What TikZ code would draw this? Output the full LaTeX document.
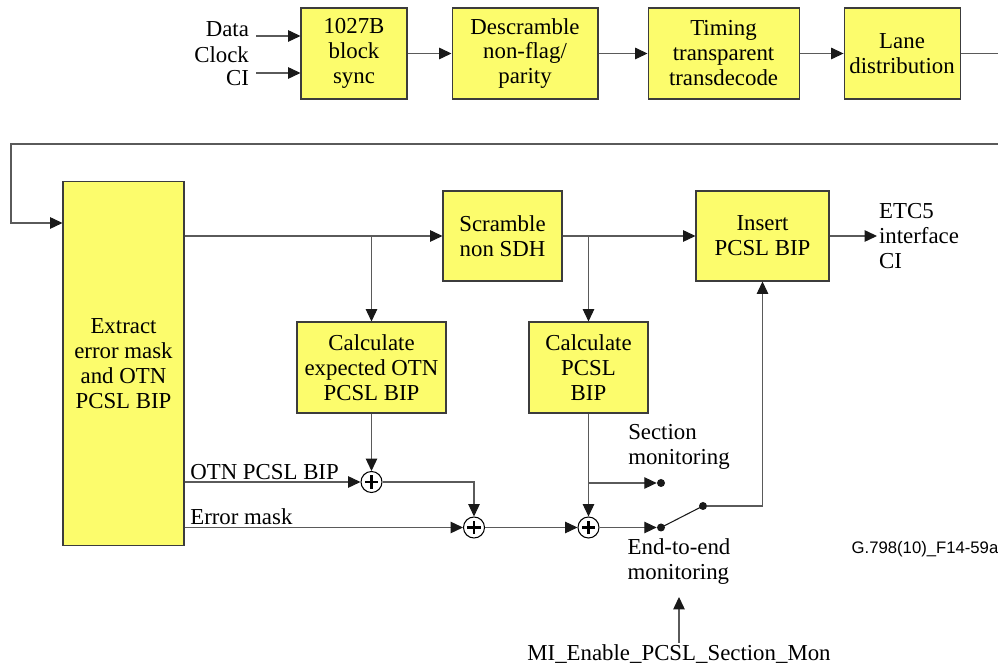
\documentclass[tikz,border=0pt]{standalone}
\usepackage{fontspec}
\setmainfont{Liberation Serif}
\setsansfont{Liberation Sans}
\usetikzlibrary{arrows.meta, positioning}
\definecolor{boxyellow}{RGB}{252,252,108}
\definecolor{boxedge}{RGB}{60,60,60}
\definecolor{wiregray}{RGB}{90,90,90}

\begin{document}
\begin{tikzpicture}[
    x=0.02cm, y=-0.02cm,
    node distance=0.88cm,
    block/.style={
        draw=boxedge,
        fill=boxyellow,
        align=center,
        minimum height=1.82cm,
        inner sep=2pt,
        line width=0.6pt,
        font=\rmfamily\fontsize{13}{14.2}\selectfont
    },
    txt/.style={
        align=left,
        inner sep=1pt,
        font=\rmfamily\fontsize{13}{14.2}\selectfont
    },
    adder/.style={
        circle,
        draw=black,
        fill=white,
        line width=0.6pt,
        minimum size=0.42cm,
        inner sep=0pt,
        path picture={
            \draw[line width=1.2pt] (path picture bounding box.center) ++(-3.8pt,0) -- ++(7.6pt,0)
                (path picture bounding box.center) ++(0,-3.8pt) -- ++(0,7.6pt);
        }
    },
    dot/.style={
        circle,
        fill=black!90,
        minimum size=0.16cm,
        inner sep=0pt
    },
    wire/.style={
        draw=wiregray,
        line width=0.6pt
    },
    arrow/.style={
        -{Triangle[length=7pt, width=6.5pt, color=black!90]},
        draw=wiregray,
        line width=0.6pt
    }
]
\useasboundingbox (0,0) rectangle (998,671);

% Top row
\node (sync) [block, minimum width=2.12cm] at (354,53.5) {1027B\\block\\sync};
\node (descr) [block, minimum width=2.92cm, right=0.88cm of sync] {Descramble\\non-flag/\\parity};
\node (timing) [block, minimum width=3.02cm, right=0.98cm of descr] {Timing\\transparent\\transdecode};
\node (lane) [block, minimum width=2.32cm, right=0.88cm of timing] {Lane\\distribution};

\node (dataLbl) [txt, anchor=east] at (251,29.5) {Data};
\node (clockLbl) [txt, anchor=east] at (251,55) {Clock};
\node (ciLbl) [txt, anchor=east] at (251,78.5) {CI};
\coordinate (dataIn) at (256,36);
\coordinate (ciIn) at (256,73);

% Main blocks
\node (extract) [block, minimum width=2.42cm, minimum height=7.30cm] at (123.5,363.5) {Extract\\error mask\\and OTN\\PCSL BIP};
\node (scramble) [block, minimum width=2.38cm, minimum height=1.80cm] at (502.5,236) {Scramble\\non SDH};
\node (insert) [block, minimum width=2.66cm, minimum height=1.80cm] at (762.5,236) {Insert\\PCSL BIP};
\node (calcExp) [block, minimum width=2.98cm] at (371.5,367.5) {Calculate\\expected OTN\\PCSL BIP};
\node (calcBip) [block, minimum width=2.38cm] at (588.5,367.5) {Calculate\\PCSL\\BIP};

% Adders and switch
\node (add1) [adder] at (371.5,482) {};
\node (add2) [adder] at (474,527.5) {};
\node (add3) [adder] at (588.5,527.5) {};
\node (secDot) [dot] at (661,483) {};
\node (e2eDot) [dot] at (661,527.5) {};
\node (pivot) [dot] at (703,506) {};

% Labels
\node (secLbl) [txt] at (679,447) {Section\\monitoring};
\node (e2eLbl) [txt] at (679,562) {End-to-end\\monitoring};
\node (etcLbl) [txt, anchor=west] at (877,236) {ETC5\\interface\\CI};
\node (miLbl) [txt, anchor=north] at (679,643) {MI\_Enable\_PCSL\_Section\_Mon};
\node (figId) [inner sep=0pt, font=\sffamily\fontsize{9.5}{11}\selectfont] at (925,549) {G.798(10)\_F14-59a};

\coordinate (edgeTop) at (998,53.5);
\coordinate (edgeBot) at (998,144);
\coordinate (wrapL) at (11,144);
\coordinate (wrapDn) at (11,223);
\coordinate (miTip) at (679,597);

% Paths
\draw [arrow] (dataIn) -- (sync.west |- dataIn);
\draw [arrow] (ciIn) -- (sync.west |- ciIn);
\draw [arrow] (sync) -- (descr);
\draw [arrow] (descr) -- (timing);
\draw [arrow] (timing) -- (lane);
\draw [wire] (lane) -- (edgeTop);
\draw [arrow] (edgeBot) -- (wrapL) -- (wrapDn) -- (extract.west |- wrapDn);

\draw [arrow] (extract.east |- scramble) -- (scramble);
\draw [arrow] (calcExp.north |- scramble) -- (calcExp);
\draw [arrow] (scramble) -- (insert);
\draw [arrow] (calcBip.north |- scramble) -- (calcBip);
\draw [arrow] (insert) -- (etcLbl);

\draw [arrow] (calcExp) -- (add1);
\draw [arrow] (extract.east |- add1) -- node (otnLbl) [txt, above right, pos=0, xshift=2pt] {OTN PCSL BIP} (add1);
\draw [arrow] (add1) -| (add2);
\draw [arrow] (extract.east |- add2) -- node (errLbl) [txt, above right, pos=0, xshift=2pt] {Error mask} (add2);
\draw [arrow] (add2) -- (add3);
\draw [arrow] (calcBip) -- (add3);
\draw [arrow] (calcBip.south |- secDot) -- (secDot);
\draw [arrow] (add3) -- (e2eDot);
\draw [line width=0.6pt, draw=black!90] (e2eDot.center) -- (pivot.center);
\draw [arrow] (pivot) -| (insert);
\draw [arrow] (miLbl) -- (miTip);

\end{tikzpicture}
\end{document}
